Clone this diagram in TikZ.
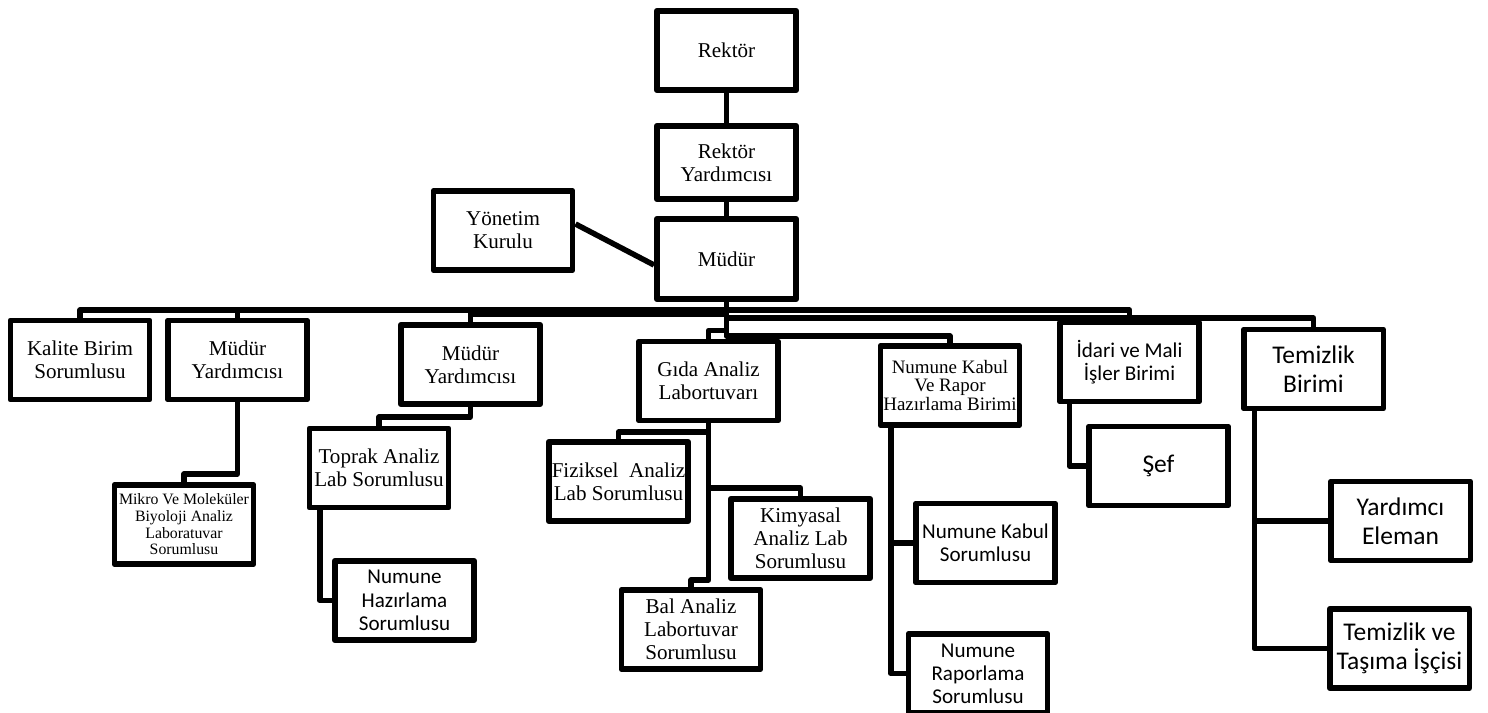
\documentclass[tikz,border=0pt]{standalone}
\usepackage{fontspec}
\setmainfont{Liberation Serif}
\newfontfamily\calib{Carlito}
\begin{document}
\begin{tikzpicture}[x=0.02cm,y=-0.02cm, line width=0.11cm, line join=round,
 box/.style={draw, fill=white, line width=0.11cm, minimum width=2.79cm, minimum height=1.59cm, inner sep=1pt, align=center, font=\fontsize{12}{13}\selectfont},
 sbox/.style={box, font=\calib\fontsize{12}{13.2}\selectfont},
 lbox/.style={box, font=\calib\fontsize{14.5}{16.5}\selectfont}]
\useasboundingbox (0,0) rectangle (1488,713);

\node[box] (rektor) at (726.5,50.5) {Rektör};
\node[box, minimum height=1.47cm] (ry) at (726.5,162.5) {Rektör\\Yardımcısı};
\node[box, minimum height=1.61cm] (mudur) at (726.5,259) {Müdür};
\node[box] (yk) at (503,230.5) {Yönetim\\Kurulu};
\node[box] (kalite) at (80,360) {Kalite Birim\\Sorumlusu};
\node[box] (my1) at (237.5,360) {Müdür\\Yardımcısı};
\node[box] (my2) at (470.5,364.5) {Müdür\\Yardımcısı};
\node[box] (gida) at (708.5,381) {Gıda Analiz\\Labortuvarı};
\node[box, font=\fontsize{10.8}{10.5}\selectfont] (nkb) at (950,385.5) {Numune Kabul\\Ve Rapor\\Hazırlama Birimi};
\node[sbox] (idari) at (1129.5,362) {İdari ve Mali\\İşler Birimi};
\node[lbox] (temb) at (1313.5,369) {Temizlik\\Birimi};
\node[box, font=\fontsize{9}{9.5}\selectfont] (mikro) at (184,524.5) {Mikro Ve Moleküler\\Biyoloji Analiz\\Laboratuvar\\Sorumlusu};
\node[box] (toprak) at (379,468) {Toprak Analiz\\Lab Sorumlusu};
\node[sbox] (nhaz) at (404.5,600.5) {Numune\\Hazırlama\\Sorumlusu};
\node[box] (fiz) at (618.5,481.5) {Fiziksel\ \ Analiz\\Lab Sorumlusu};
\node[box] (kim) at (800.5,538.5) {Kimyasal\\Analiz Lab\\Sorumlusu};
\node[box] (bal) at (691,629.5) {Bal Analiz\\Labortuvar\\Sorumlusu};
\node[sbox] (nks) at (985.5,543) {Numune Kabul\\Sorumlusu};
\node[sbox] (nrs) at (978,673.5) {Numune\\Raporlama\\Sorumlusu};
\node[lbox] (sef) at (1158.5,466) {Şef};
\node[lbox] (ye) at (1400.5,521) {Yardımcı\\Eleman};
\node[lbox] (ttis) at (1399.5,648.5) {Temizlik ve\\Taşıma İşçisi};

\draw (rektor.south) -- (ry.north);
\draw (ry.south) -- (mudur.north);
\draw ([yshift=0.13cm]yk.east) -- ([yshift=-0.12cm]mudur.west);

\draw (mudur.south) -- (mudur.south |- 0,310) -| (kalite.north);
\draw (mudur.south |- 0,310) -| (my1.north);
\draw (mudur.south) -- (mudur.south |- 0,314) -| (my2.north);
\draw (mudur.south) -- (mudur.south |- 0,330.5) -| (gida.north);
\draw (mudur.south) -- (mudur.south |- 0,336) -| (nkb.north);
\draw (mudur.south |- 0,310) -| (idari.north);
\draw (mudur.south |- 0,318) -| (temb.north);

\draw (my1.south) |- (mikro.north |- 0,474) -- (mikro.north);
\draw (my2.south) |- (toprak.north |- 0,417) -- (toprak.north);
\draw (gida.south) |- (fiz.north |- 0,432) -- (fiz.north);
\draw (gida.south) |- (kim.north |- 0,488) -- (kim.north);
\draw (gida.south) |- (bal.north |- 0,580) -- (bal.north);
\draw ([xshift=0.265cm]toprak.south west) |- (nhaz.west);
\draw ([xshift=0.265cm]nkb.south west) |- (nks.west);
\draw ([xshift=0.265cm]nkb.south west) |- (nrs.west);
\draw ([xshift=0.245cm]idari.south west) |- (sef.west);
\draw ([xshift=0.265cm]temb.south west) |- (ye.west);
\draw ([xshift=0.265cm]temb.south west) |- (ttis.west);
\end{tikzpicture}
\end{document}
